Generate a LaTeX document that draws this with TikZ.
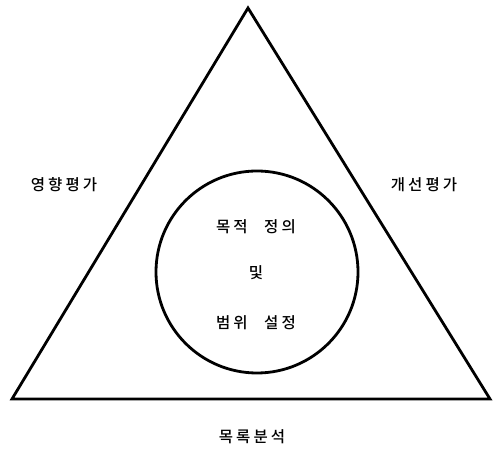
\documentclass[tikz,border=0pt]{standalone}
\usepackage{fontspec}
\newfontfamily\kr[LetterSpace=20,WordSpace=2.5]{Noto Sans CJK KR Medium}
\begin{document}
\begin{tikzpicture}[x=1pt,y=1pt,
  lbl/.style={font=\kr\fontsize{15.5}{17}\selectfont, inner sep=0pt},
  edge/.style={line width=2.8pt, line join=miter}]
\useasboundingbox (0,0) rectangle (496,453);
\coordinate (top) at (248,445);
\coordinate (bl) at (12,54);
\coordinate (br) at (490,54);
\draw[edge] (top) -- (bl) -- (br) -- cycle;
\node[circle, draw, line width=2.8pt, minimum size=202pt, inner sep=0pt] (c) at (257,181) {};
\node[lbl] (t1) at (256,226) {목적 정의};
\node[lbl] (t2) at (256,180) {및};
\node[lbl] (t3) at (256,130) {범위 설정};
\node[lbl] (left) at (64,268) {영향평가};
\node[lbl] (right) at (424,268) {개선평가};
\node[lbl] (bottom) at (252,16) {목록분석};
\end{tikzpicture}
\end{document}
